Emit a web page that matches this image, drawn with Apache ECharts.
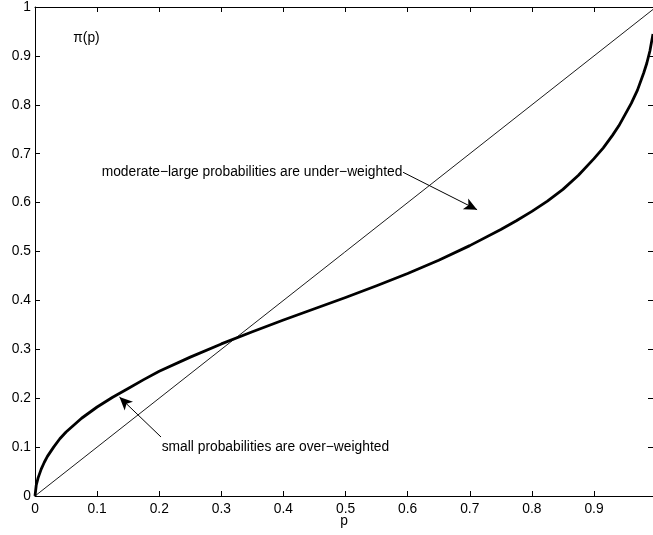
<!DOCTYPE html>
<html>
<head>
<meta charset="utf-8">
<script src="https://cdn.jsdelivr.net/npm/echarts@6/dist/echarts.min.js"></script>
<style>
html,body{margin:0;padding:0;background:#fff;}
#c{width:653px;height:535px;}
</style>
</head>
<body>
<div id="c"></div>
<script>
// probability p (x) and decision weight pi(p) (y)
const pValues  = [0, 0.002, 0.005, 0.01, 0.015, 0.02, 0.03, 0.04, 0.05, 0.075, 0.1, 0.125, 0.15, 0.175, 0.2, 0.25, 0.3, 0.35, 0.4, 0.45, 0.5, 0.55, 0.6, 0.65, 0.7, 0.75, 0.775, 0.8, 0.825, 0.85, 0.875, 0.9, 0.915, 0.93, 0.94, 0.95, 0.96, 0.97, 0.98, 0.985, 0.99, 0.995];
const piValues = [0, 0.022, 0.037, 0.055, 0.069, 0.081, 0.1, 0.117, 0.131, 0.159, 0.182, 0.202, 0.22, 0.238, 0.255, 0.284, 0.311, 0.336, 0.36, 0.383, 0.406, 0.43, 0.455, 0.482, 0.512, 0.545, 0.563, 0.582, 0.603, 0.627, 0.656, 0.69, 0.712, 0.738, 0.757, 0.78, 0.803, 0.83, 0.865, 0.885, 0.91, 0.945];
const diagonalP = [0, 1];
const diagonalPi = [0, 1];
const xTickLabels = ['0','0.1','0.2','0.3','0.4','0.5','0.6','0.7','0.8','0.9'];
const yTickLabels = ['0','0.1','0.2','0.3','0.4','0.5','0.6','0.7','0.8','0.9','1'];
const noteUnder = 'moderate\u2212large probabilities are under\u2212weighted';
const noteOver = 'small probabilities are over\u2212weighted';
const yLabelText = '\u03c0(p)';
const xLabelText = 'p';
// annotation anchors in data units
const noteUnderAt = [0.1074, 0.663];
const noteOverAt = [0.204, 0.1008];
const yLabelAt = [0.0617, 0.937];
const arrowUnder = [[0.5926, 0.662], [0.7118, 0.5855]];
const arrowOver = [[0.2029, 0.1206], [0.136, 0.2023]];

const FONT = 'Liberation Sans';
const FS = 13.8;

const curve = pValues.map((p, i) => [p, piValues[i]]);
const diag = diagonalP.map((p, i) => [p, diagonalPi[i]]);

function fmtX(v) {
  const k = Math.round(v * 10);
  if (Math.abs(v * 10 - k) > 1e-6) return '';
  return xTickLabels[k] !== undefined ? xTickLabels[k] : '';
}
function fmtY(v) {
  const k = Math.round(v * 10);
  return yTickLabels[k] !== undefined ? yTickLabels[k] : '';
}

function tick() { return {show: true, inside: true, length: 5, lineStyle: {color: '#000', width: 1}}; }
function axLine() { return {show: true, onZero: false, lineStyle: {color: '#000', width: 1}}; }

const chart = echarts.init(document.getElementById('c'), null, {renderer: 'canvas'});
chart.setOption({
  backgroundColor: '#fff',
  animation: false,
  textStyle: {fontFamily: FONT},
  grid: {left: 35, right: 0, top: 7, bottom: 39, containLabel: false, outerBoundsMode: 'none'},
  xAxis: [{
    type: 'value', min: 0, max: 0.995, interval: 0.1, position: 'bottom',
    axisLine: axLine(), axisTick: tick(), splitLine: {show: false},
    axisLabel: {show: true, color: '#000', fontFamily: FONT, fontSize: FS, margin: 6, formatter: fmtX, showMaxLabel: false},
    name: xLabelText, nameLocation: 'middle', nameGap: 18, nameMoveOverlap: false,
    nameTextStyle: {color: '#000', fontFamily: FONT, fontSize: FS}
  }, {
    type: 'value', min: 0, max: 0.995, interval: 0.1, position: 'top',
    axisLine: axLine(), axisTick: tick(), splitLine: {show: false},
    axisLabel: {show: false}
  }],
  yAxis: [{
    type: 'value', min: 0, max: 1, interval: 0.1, position: 'left',
    axisLine: axLine(), axisTick: tick(), splitLine: {show: false},
    axisLabel: {show: true, color: '#000', fontFamily: FONT, fontSize: FS, margin: 4, formatter: fmtY}
  }, {
    type: 'value', min: 0, max: 1, interval: 0.1, position: 'right',
    axisLine: axLine(), axisTick: tick(), splitLine: {show: false},
    axisLabel: {show: false}
  }],
  series: [{
    type: 'line', xAxisIndex: 0, yAxisIndex: 0, data: diag,
    showSymbol: false, symbol: 'none', clip: true, silent: true,
    lineStyle: {color: '#000', width: 0.9},
    markLine: {
      silent: true, symbol: ['none', 'arrow'], symbolSize: [9, 13],
      label: {show: false},
      lineStyle: {color: '#000', width: 1, type: 'solid'},
      emphasis: {disabled: true},
      data: [
        [{coord: arrowUnder[0]}, {coord: arrowUnder[1]}],
        [{coord: arrowOver[0]}, {coord: arrowOver[1]}]
      ]
    },
    markPoint: {
      silent: true, symbol: 'circle', symbolSize: 0,
      label: {show: true, position: 'right', distance: 0, color: '#000', fontFamily: FONT, fontSize: FS, align: 'left', verticalAlign: 'middle'},
      data: [
        {coord: noteUnderAt, label: {formatter: noteUnder}},
        {coord: noteOverAt, label: {formatter: noteOver}},
        {coord: yLabelAt, label: {formatter: yLabelText}}
      ]
    }
  }, {
    type: 'line', xAxisIndex: 0, yAxisIndex: 0, data: curve,
    showSymbol: false, symbol: 'none', clip: true, silent: true,
    smooth: false,
    lineStyle: {color: '#000', width: 2.8, join: 'round'}
  }]
});
</script>
</body>
</html>
